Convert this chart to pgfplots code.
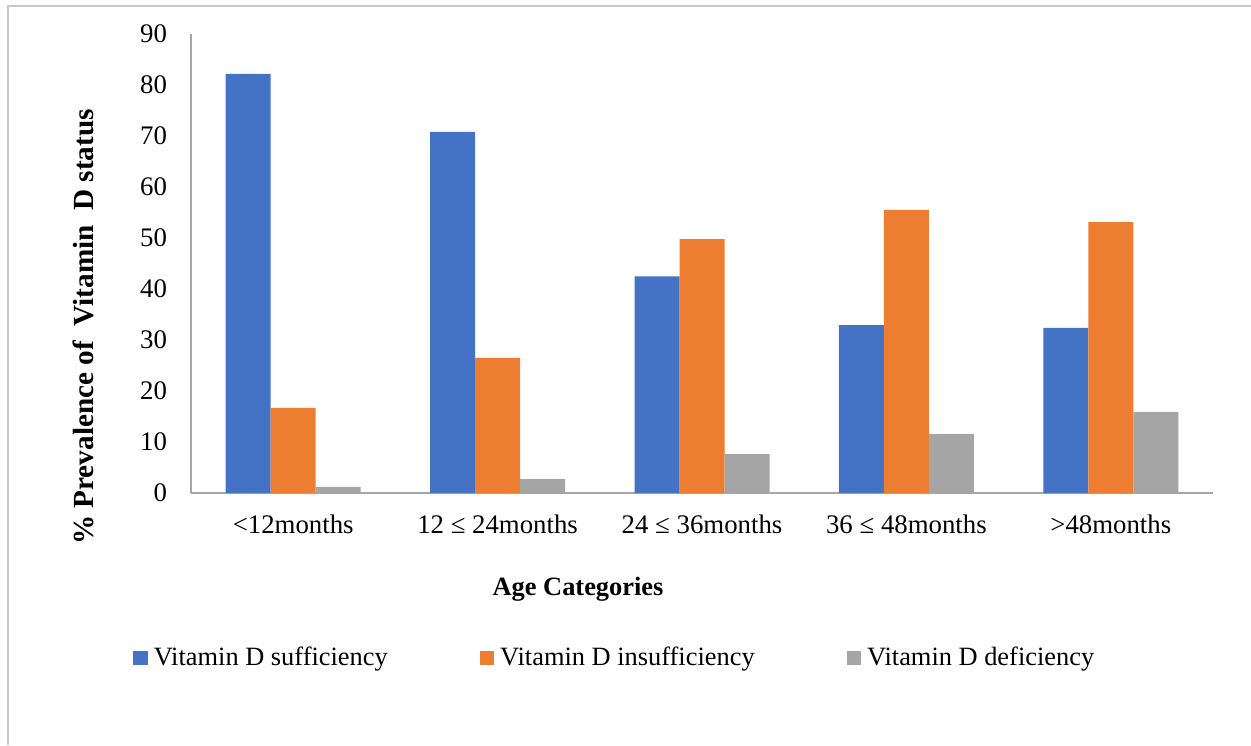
\documentclass[border=0pt]{standalone}
\usepackage{fontspec}
\setmainfont{Liberation Serif}
\usepackage{pgfplots}
\pgfplotsset{compat=1.18}
\definecolor{cblue}{HTML}{4472C4}
\definecolor{corange}{HTML}{ED7D31}
\definecolor{cgray}{HTML}{A5A5A5}
\definecolor{axgray}{HTML}{A6A6A6}
\definecolor{frame}{HTML}{C8C8C8}
\begin{document}
\begin{tikzpicture}
\useasboundingbox (0,0) rectangle (625.5pt,372.5pt);
\draw[frame, line width=0.8pt] (4pt,0) -- (4pt,369.5pt) -- (625.5pt,369.5pt);
\begin{axis}[
  at={(95.5pt,126pt)}, anchor=south west,
  scale only axis, width=511pt, height=229.5pt,
  ybar, bar width=22.5pt,
  xmin=-0.5, xmax=4.5, ymin=0, ymax=90,
  ytick={0,10,...,90},
  xtick={0,1,2,3,4},
  xticklabels={{<12months},{12 ≤ 24months},{24 ≤ 36months},{36 ≤ 48months},{>48months}},
  axis x line*=bottom, axis y line*=left,
  axis line style={axgray, line width=0.8pt, -},
  major tick length=0pt,
  tick style={draw=none},
  font=\fontsize{13.2}{15}\selectfont,
  /pgf/number format/assume math mode=true,
  ticklabel style={font=\fontsize{13.4}{15}\selectfont},
  yticklabel style={xshift=-8.5pt},
  xticklabel style={yshift=-7.6pt},
  xlabel={\textbf{Age Categories}},
  ylabel={\textbf{\% Prevalence of\ \ Vitamin\ \ D status}},
  xlabel style={at={(axis description cs:0.3787,-0.209)}, anchor=center},
  ylabel style={at={(axis description cs:-0.1057,0.3615)}, anchor=center, font=\fontsize{14.6}{16}\selectfont},
  legend columns=3,
  legend style={draw=none, fill=none, at={(axis description cs:-0.0568,-0.3595)}, anchor=west, inner sep=0pt,
    font=\fontsize{13.2}{15}\selectfont,
    /tikz/every odd column/.append style={column sep=1pt},
    /tikz/every even column/.append style={column sep=44pt}},
  legend image code/.code={\fill[#1] (0pt,-3.6pt) rectangle (7.2pt,3.6pt);},
]
\addplot[fill=cblue, draw=none, bar shift=-22.5pt] coordinates {(0,82.2) (1,70.8) (2,42.5) (3,32.9) (4,32.4)};
\addplot[fill=corange, draw=none, bar shift=0pt] coordinates {(0,16.7) (1,26.5) (2,49.8) (3,55.5) (4,53.1)};
\addplot[fill=cgray, draw=none, bar shift=22.5pt] coordinates {(0,1.2) (1,2.7) (2,7.6) (3,11.6) (4,15.9)};
\legend{Vitamin D sufficiency, Vitamin D insufficiency, Vitamin D deficiency}
\end{axis}
\end{tikzpicture}
\end{document}
